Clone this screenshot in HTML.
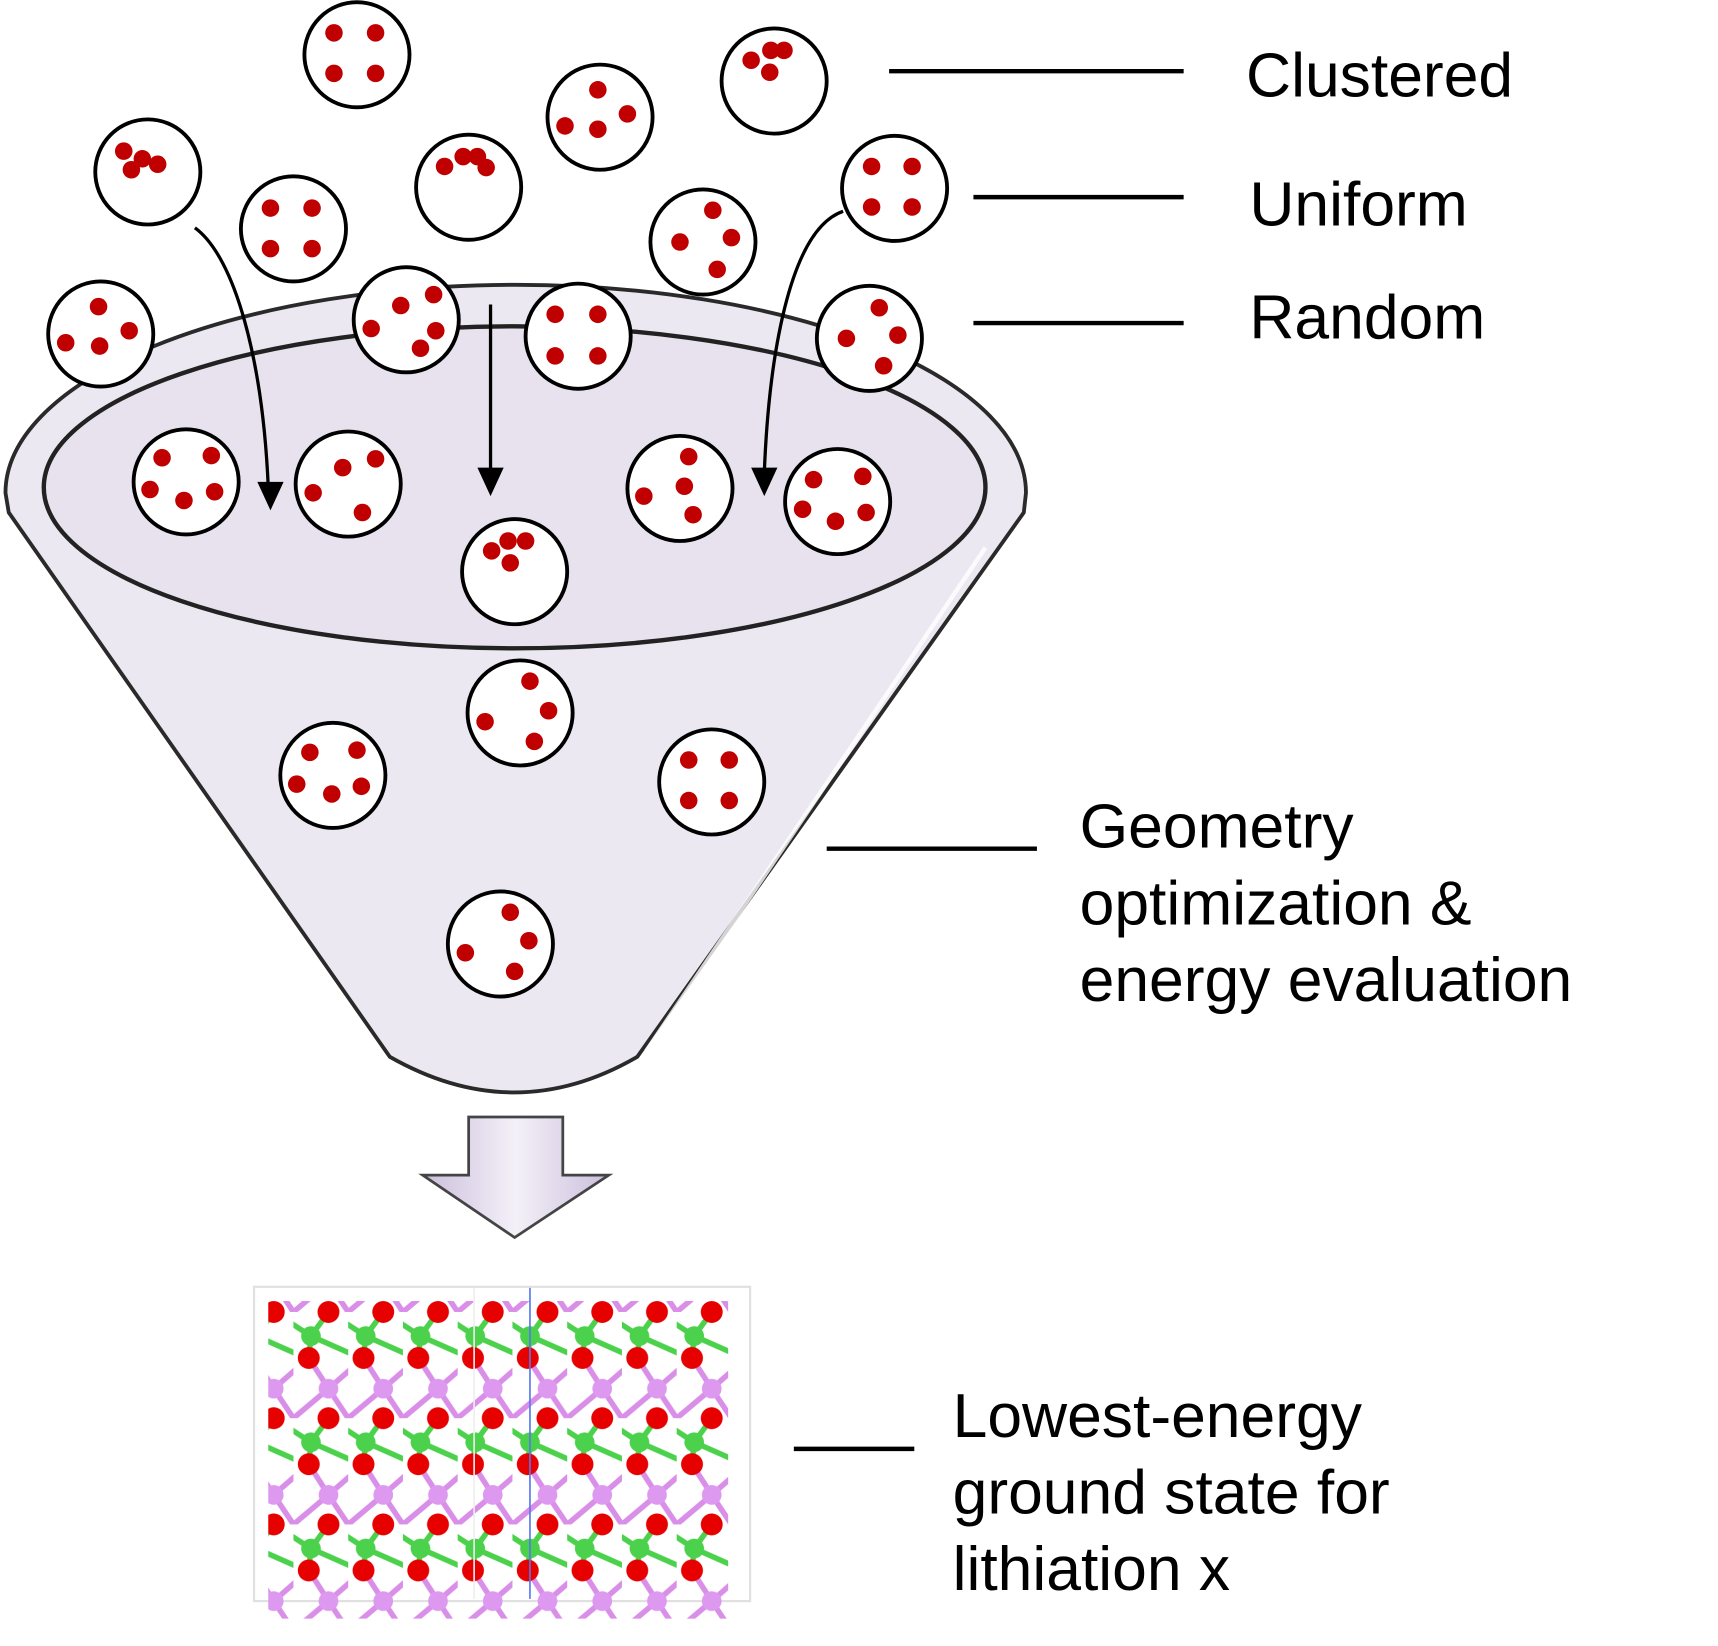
<!DOCTYPE html>
<html><head><meta charset="utf-8"><style>
html,body{margin:0;padding:0;background:#fff;}
svg{display:block;}
text{font-family:"Liberation Sans",Arial,sans-serif;fill:#000;}
</style></head><body>
<svg width="1718" height="1646" viewBox="0 0 1569 1503" preserveAspectRatio="none" xmlns="http://www.w3.org/2000/svg">
<defs>
<linearGradient id="ag" x1="0" y1="0" x2="1" y2="0">
<stop offset="0" stop-color="#cbbfdc"/><stop offset="0.5" stop-color="#f4f0f8"/><stop offset="1" stop-color="#cbbfdc"/>
</linearGradient>
<pattern id="lat" x="268" y="1198" width="50" height="97" patternUnits="userSpaceOnUse">
<g stroke-width="5">
<line x1="32" y1="0" x2="16" y2="22" stroke="#4bd14b"/>
<line x1="16" y1="22" x2="-18" y2="0" stroke="#4bd14b"/>
<line x1="66" y1="44" x2="16" y2="22" stroke="#4bd14b"/>
<line x1="16" y1="22" x2="14" y2="42" stroke="#4bd14b"/>
<line x1="14" y1="42" x2="32" y2="70" stroke="#d98ee8"/>
<line x1="32" y1="70" x2="64" y2="42" stroke="#d98ee8"/>
<line x1="32" y1="70" x2="50" y2="97" stroke="#d98ee8"/>
<line x1="32" y1="70" x2="0" y2="97" stroke="#d98ee8"/>
<line x1="0" y1="97" x2="-18" y2="70" stroke="#d98ee8"/>
</g>
<circle cx="32" cy="0" r="10" fill="#e60000"/>
<circle cx="82" cy="0" r="10" fill="#e60000"/>
<circle cx="-18" cy="0" r="10" fill="#e60000"/>
<circle cx="32" cy="97" r="10" fill="#e60000"/>
<circle cx="16" cy="22" r="9" fill="#4bd14b"/>
<circle cx="14" cy="42" r="10" fill="#e60000"/>
<circle cx="64" cy="42" r="10" fill="#e60000"/>
<circle cx="32" cy="70" r="9" fill="#dd99f0"/>
</pattern>
</defs>

<path d="M5,450 A466 190 0 0 1 937,450 L935,468 L582,965 Q470,1030 356,965 L8,468 Z" fill="#ece8f1" stroke="#2a2a2a" stroke-width="3.5"/>
<path d="M590,960 L900,500" stroke="#fff" stroke-width="4" opacity="0.8"/>
<ellipse cx="470" cy="445" rx="430" ry="147" fill="#e8e2ee" stroke="#222" stroke-width="4"/>

<g stroke="#000" stroke-width="3" fill="none">
<path d="M178,208 C215,235 240,330 245,445"/>
<path d="M448,278 L448,432"/>
<path d="M770,193 C720,210 702,330 698,432"/>
</g>
<g stroke="#000" stroke-width="4" fill="none">
<line x1="812" y1="65" x2="1081" y2="65"/>
<line x1="889" y1="180" x2="1081" y2="180"/>
<line x1="889" y1="295" x2="1081" y2="295"/>
<line x1="755" y1="775" x2="947" y2="775"/>
<line x1="725" y1="1323" x2="835" y2="1323"/>
</g>
<g fill="#000">
<polygon points="235,440 259,440 247,466"/>
<polygon points="436,427 460,427 448,453"/>
<polygon points="686,427 710,427 698,453"/>
</g>

<g stroke="#000" stroke-width="3.5" fill="#fff">
<circle cx="326" cy="50" r="48"/><circle cx="707" cy="74" r="48"/><circle cx="548" cy="107" r="48"/>
<circle cx="135" cy="157" r="48"/><circle cx="428" cy="171" r="48"/><circle cx="268" cy="209" r="48"/>
<circle cx="817" cy="172" r="48"/><circle cx="642" cy="221" r="48"/><circle cx="92" cy="305" r="48"/>
<circle cx="371" cy="292" r="48"/><circle cx="528" cy="307" r="48"/><circle cx="794" cy="309" r="48"/>
<circle cx="170" cy="440" r="48"/><circle cx="318" cy="442" r="48"/><circle cx="470" cy="522" r="48"/>
<circle cx="621" cy="446" r="48"/><circle cx="765" cy="458" r="48"/><circle cx="475" cy="651" r="48"/>
<circle cx="304" cy="708" r="48"/><circle cx="650" cy="714" r="48"/><circle cx="457" cy="862" r="48"/>
</g>
<g fill="#c00000">
<circle cx="305" cy="30" r="8"/><circle cx="343" cy="30" r="8"/><circle cx="305" cy="67" r="8"/><circle cx="343" cy="67" r="8"/>
<circle cx="686" cy="55" r="8"/><circle cx="704" cy="46" r="8"/><circle cx="716" cy="46" r="8"/><circle cx="703" cy="66" r="8"/>
<circle cx="546" cy="82" r="8"/><circle cx="573" cy="104" r="8"/><circle cx="516" cy="115" r="8"/><circle cx="546" cy="118" r="8"/>
<circle cx="113" cy="138" r="8"/><circle cx="130" cy="145" r="8"/><circle cx="144" cy="150" r="8"/><circle cx="120" cy="155" r="8"/>
<circle cx="406" cy="152" r="8"/><circle cx="423" cy="143" r="8"/><circle cx="436" cy="143" r="8"/><circle cx="444" cy="153" r="8"/>
<circle cx="247" cy="190" r="8"/><circle cx="285" cy="190" r="8"/><circle cx="247" cy="227" r="8"/><circle cx="285" cy="227" r="8"/>
<circle cx="796" cy="152" r="8"/><circle cx="833" cy="152" r="8"/><circle cx="796" cy="189" r="8"/><circle cx="833" cy="189" r="8"/>
<circle cx="651" cy="192" r="8"/><circle cx="668" cy="217" r="8"/><circle cx="621" cy="221" r="8"/><circle cx="655" cy="246" r="8"/>
<circle cx="90" cy="280" r="8"/><circle cx="118" cy="302" r="8"/><circle cx="60" cy="313" r="8"/><circle cx="91" cy="316" r="8"/>
<circle cx="366" cy="279" r="8"/><circle cx="396" cy="269" r="8"/><circle cx="339" cy="300" r="8"/><circle cx="398" cy="302" r="8"/><circle cx="384" cy="318" r="8"/>
<circle cx="507" cy="287" r="8"/><circle cx="546" cy="287" r="8"/><circle cx="507" cy="325" r="8"/><circle cx="546" cy="325" r="8"/>
<circle cx="803" cy="281" r="8"/><circle cx="820" cy="306" r="8"/><circle cx="773" cy="309" r="8"/><circle cx="807" cy="334" r="8"/>
<circle cx="148" cy="418" r="8"/><circle cx="193" cy="416" r="8"/><circle cx="137" cy="447" r="8"/><circle cx="168" cy="457" r="8"/><circle cx="196" cy="449" r="8"/>
<circle cx="343" cy="419" r="8"/><circle cx="313" cy="427" r="8"/><circle cx="286" cy="450" r="8"/><circle cx="331" cy="468" r="8"/>
<circle cx="449" cy="503" r="8"/><circle cx="464" cy="494" r="8"/><circle cx="480" cy="494" r="8"/><circle cx="466" cy="514" r="8"/>
<circle cx="629" cy="417" r="8"/><circle cx="625" cy="444" r="8"/><circle cx="588" cy="453" r="8"/><circle cx="633" cy="470" r="8"/>
<circle cx="743" cy="438" r="8"/><circle cx="788" cy="435" r="8"/><circle cx="733" cy="465" r="8"/><circle cx="763" cy="476" r="8"/><circle cx="791" cy="468" r="8"/>
<circle cx="484" cy="622" r="8"/><circle cx="501" cy="649" r="8"/><circle cx="443" cy="659" r="8"/><circle cx="488" cy="677" r="8"/>
<circle cx="283" cy="687" r="8"/><circle cx="326" cy="685" r="8"/><circle cx="271" cy="716" r="8"/><circle cx="303" cy="725" r="8"/><circle cx="330" cy="718" r="8"/>
<circle cx="629" cy="694" r="8"/><circle cx="666" cy="694" r="8"/><circle cx="629" cy="731" r="8"/><circle cx="666" cy="731" r="8"/>
<circle cx="466" cy="833" r="8"/><circle cx="483" cy="859" r="8"/><circle cx="425" cy="870" r="8"/><circle cx="470" cy="887" r="8"/>
</g>

<path d="M428,1020 L514,1020 L514,1073 L556,1073 L470,1130 L386,1073 L428,1073 Z" fill="url(#ag)" stroke="#444" stroke-width="2.5"/>

<rect x="232" y="1175" width="453" height="287" fill="#fff" stroke="#e0e0e0" stroke-width="2"/>
<rect x="245" y="1188" width="420" height="290" fill="url(#lat)"/>
<line x1="484" y1="1176" x2="484" y2="1460" stroke="#5577ee" stroke-width="1.5"/>
<line x1="433" y1="1176" x2="433" y2="1460" stroke="#eee" stroke-width="1.5"/>

<g font-size="57">
<text x="1138" y="88">Clustered</text>
<text x="1141" y="206">Uniform</text>
<text x="1141" y="309">Random</text>
<text x="986" y="774">Geometry</text>
<text x="986" y="844">optimization &amp;</text>
<text x="986" y="914">energy evaluation</text>
<text x="870" y="1312">Lowest-energy</text>
<text x="870" y="1382">ground state for</text>
<text x="870" y="1452">lithiation x</text>
</g>
</svg>
</body></html>
